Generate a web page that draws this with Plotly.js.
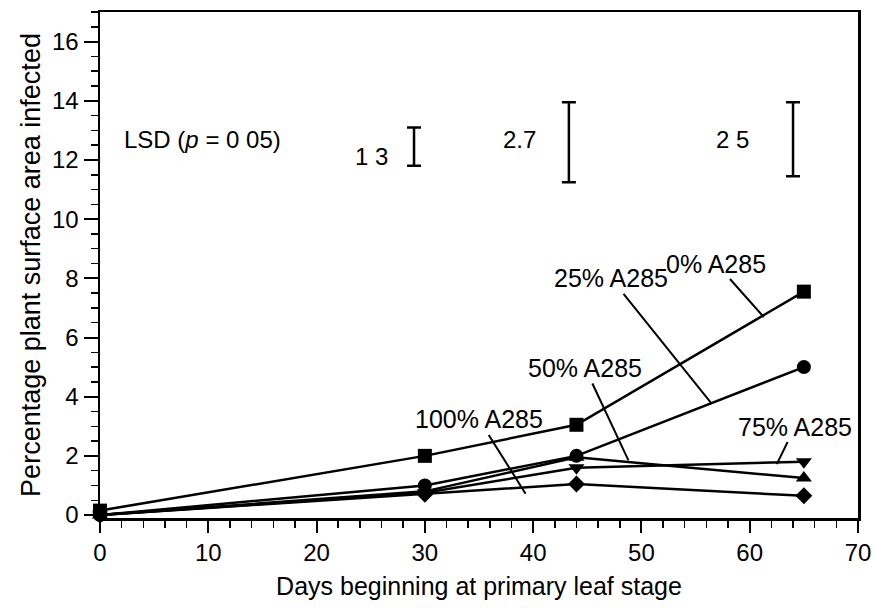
<!DOCTYPE html>
<html>
<head>
<meta charset="utf-8">
<script src="https://cdn.plot.ly/plotly-3.0.1.min.js"></script>
<style>html,body{margin:0;padding:0;background:#fff;}#chart{width:877px;height:608px;}</style>
</head>
<body>
<div id="chart"></div>
<script>
// ---- data ----
const days = [0, 30, 44, 65];
const seriesNames = ["0% A285", "25% A285", "50% A285", "75% A285", "100% A285"];
const s0 = [0.15, 2.0, 3.05, 7.55];
const s25 = [0.0, 1.0, 2.0, 5.0];
const s50 = [0.0, 0.8, 1.95, 1.25];
const s75 = [0.0, 0.75, 1.6, 1.8];
const s100 = [0.0, 0.7, 1.05, 0.65];
const symbols = ["square", "circle", "triangle-up", "triangle-down", "diamond"];

// LSD bars (p = 0.05)
const lsdX = [29, 43.3, 64];
const lsdCenter = [12.45, 12.6, 12.7];
const lsdValues = [1.3, 2.7, 2.5];
const lsdLabels = ["1 3", "2.7", "2 5"];
const lsdLabelX = [25.1, 38.7, 58.4];
const lsdLabelY = [12.13, 12.7, 12.7];

// label pointers: tip on line and text position
const tipX = [61.3, 56.5, 48.8, 62.5, 39.3];
const tipY = [6.69, 3.76, 1.85, 1.72, 0.72];
const txtX = [56.9, 47.2, 44.8, 64.2, 35.0];
const txtY = [8.5, 8.0, 4.97, 2.99, 3.23];

const xTicks = [0, 10, 20, 30, 40, 50, 60, 70];
const yTicks = [0, 2, 4, 6, 8, 10, 12, 14, 16];

// ---- build ----
const allSeries = [s0, s25, s50, s75, s100];
const traces = allSeries.map((vals, i) => ({
  type: "scatter", mode: "lines+markers", name: seriesNames[i],
  x: days, y: vals,
  line: {color: "#000", width: 2.5},
  marker: {symbol: symbols[i], size: (symbols[i] === "diamond" ? 13 : 14), color: "#000"},
  cliponaxis: false
}));
traces.push({
  type: "scatter", mode: "markers", x: lsdX, y: lsdCenter,
  marker: {size: 1, color: "rgba(0,0,0,0)"},
  error_y: {type: "data", array: lsdValues.map(v => v / 2), visible: true,
            color: "#000", thickness: 2.5, width: 7},
  hoverinfo: "skip"
});

const font = {family: "Liberation Sans, Arial, sans-serif", color: "#000"};
const annotations = [];
seriesNames.forEach((n, i) => {
  annotations.push({
    x: tipX[i], y: tipY[i], xref: "x", yref: "y",
    ax: txtX[i], ay: txtY[i], axref: "x", ayref: "y",
    text: n, showarrow: true, arrowhead: 0, arrowwidth: 2, arrowcolor: "#000",
    font: Object.assign({size: 25}, font), standoff: 0, startstandoff: 0
  });
});
annotations.push({
  x: 2.0, y: 12.7, xref: "x", yref: "y", xanchor: "left",
  text: "LSD (<i>p</i> = 0 05)", showarrow: false,
  font: Object.assign({size: 24}, font)
});
lsdLabels.forEach((t, i) => {
  annotations.push({
    x: lsdLabelX[i], y: lsdLabelY[i], xref: "x", yref: "y",
    text: t, showarrow: false, font: Object.assign({size: 24}, font)
  });
});

const layout = {
  width: 877, height: 608,
  margin: {l: 100, r: 19, t: 12, b: 90},
  paper_bgcolor: "#fff", plot_bgcolor: "#fff",
  showlegend: false,
  font: Object.assign({size: 22}, font),
  xaxis: {
    range: [0, 70], tickvals: xTicks, ticktext: xTicks.map(String),
    showline: true, linecolor: "#000", linewidth: 2.5, mirror: true,
    ticks: "outside", ticklen: 12, tickwidth: 2, tickcolor: "#000",
    minor: {dtick: 2, ticks: "outside", ticklen: 7, tickwidth: 1.5, tickcolor: "#000"},
    showgrid: false, zeroline: false,
    tickfont: Object.assign({size: 24}, font),
    title: {text: "Days beginning at primary leaf stage", font: Object.assign({size: 25}, font), standoff: 12}
  },
  yaxis: {
    range: [-0.1, 17], tickvals: yTicks, ticktext: yTicks.map(String),
    showline: true, linecolor: "#000", linewidth: 2.5, mirror: true,
    ticks: "outside", ticklen: 14, tickwidth: 2, tickcolor: "#000",
    minor: {dtick: 0.5, ticks: "outside", ticklen: 7, tickwidth: 1.5, tickcolor: "#000"},
    showgrid: false, zeroline: false,
    tickfont: Object.assign({size: 24}, font),
    title: {text: "Percentage plant surface area infected", font: Object.assign({size: 27}, font), standoff: 4}
  },
  annotations: annotations
};

Plotly.newPlot("chart", traces, layout, {displayModeBar: false, staticPlot: true});
</script>
</body>
</html>
